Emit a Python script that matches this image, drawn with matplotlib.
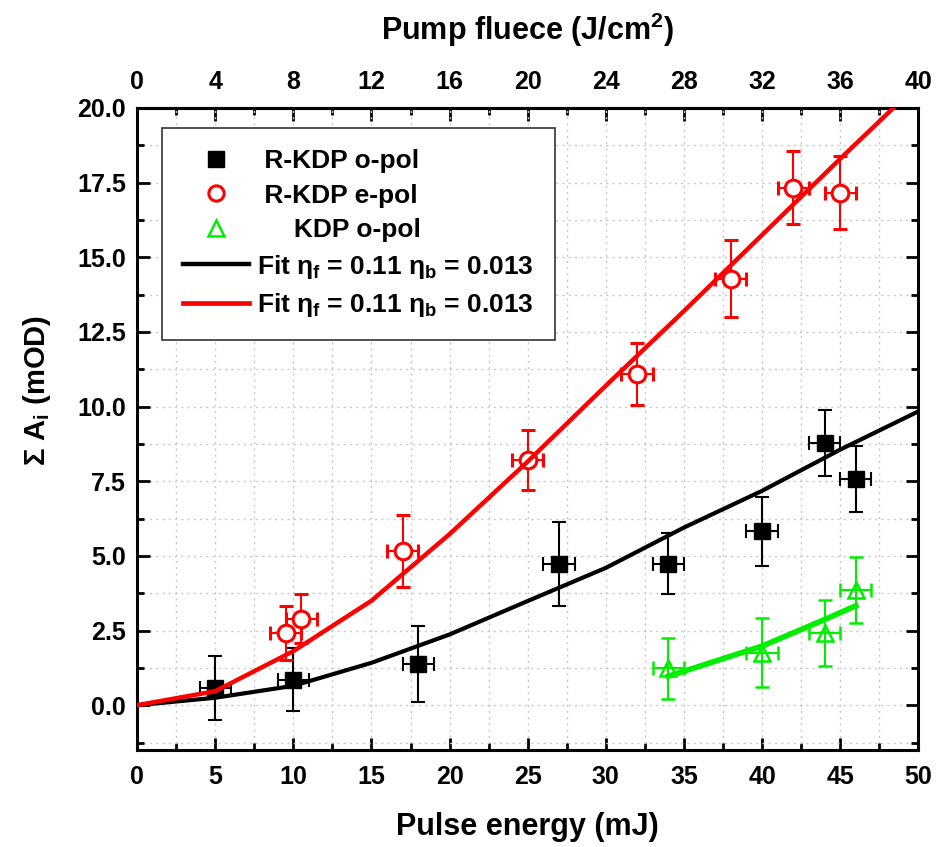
import matplotlib
matplotlib.use("Agg")
import matplotlib.pyplot as plt
from matplotlib.ticker import MultipleLocator, FixedLocator
from matplotlib.lines import Line2D

plt.rcParams["font.family"] = ["Liberation Sans", "DejaVu Sans"]
plt.rcParams["font.weight"] = "bold"
plt.rcParams["mathtext.fontset"] = "custom"
plt.rcParams["mathtext.rm"] = "Liberation Sans:bold"
plt.rcParams["mathtext.it"] = "Liberation Sans:bold"
plt.rcParams["mathtext.bf"] = "Liberation Sans:bold"

# R-KDP o-pol (black squares)
o_x = [5, 10, 18, 27, 34, 40, 44, 46]
o_y = [0.58, 0.86, 1.38, 4.72, 4.74, 5.82, 8.79, 7.58]
o_yerr = [1.07, 1.07, 1.27, 1.4, 1.02, 1.15, 1.1, 1.1]

# R-KDP e-pol (red circles)
e_x = [9.5, 10.5, 17, 25, 32, 38, 42, 45]
e_y = [2.43, 2.9, 5.17, 8.2, 11.09, 14.29, 17.33, 17.16]
e_yerr = [0.9, 0.82, 1.2, 1.0, 1.04, 1.28, 1.22, 1.22]

# KDP o-pol (green triangles)
k_x = [34, 40, 44, 46]
k_y = [1.23, 1.76, 2.43, 3.86]
k_yerr = [1.02, 1.15, 1.1, 1.1]

xerr = 1.0

# fit curves
fit_x = [0, 5, 10, 15, 20, 25, 30, 35, 40, 45, 50]
fit_o = [0, 0.25, 0.65, 1.42, 2.37, 3.49, 4.6, 5.95, 7.18, 8.56, 9.84]
fit_e = [0, 0.47, 1.81, 3.5, 5.73, 8.16, 10.7, 13.2, 15.75, 18.3, 20.8]
fit_k_x = [34, 40, 44, 46]
fit_k = [0.97, 1.98, 2.87, 3.33]

# top axis ticks (pump fluence, J/cm2)
fluence_ticks = [0, 4, 8, 12, 16, 20, 24, 28, 32, 36, 40]

GREEN = "#00ee00"

fig = plt.figure(figsize=(9.39, 8.47), dpi=100)
ax = fig.add_axes([0.146, 0.1145, 0.832, 0.758])

ekw = dict(capsize=5, elinewidth=1.5, capthick=1.5, ls="none", zorder=3)
ax.errorbar(o_x, o_y, yerr=o_yerr, xerr=xerr, fmt="s", color="black",
            ms=11, mec="black", mfc="black", **ekw)
ax.errorbar(e_x, e_y, yerr=e_yerr, xerr=xerr, fmt="o", color="red",
            ms=12, mec="red", mfc="white", mew=2.2, **ekw)
ax.errorbar(k_x, k_y, yerr=k_yerr, xerr=xerr, fmt="^", color=GREEN,
            ms=12, mec=GREEN, mfc="none", mew=1.8, **ekw)

ax.plot(fit_x, fit_o, color="black", lw=3, zorder=4)
ax.plot(fit_x, fit_e, color="red", lw=3.2, zorder=4)
ax.plot(fit_k_x, fit_k, color=GREEN, lw=4, zorder=4)

ax.set_xlim(0, 50)
ax.set_ylim(-1.5, 20)
ax.xaxis.set_major_locator(MultipleLocator(5))
ax.xaxis.set_minor_locator(MultipleLocator(2.5))
ax.yaxis.set_major_locator(MultipleLocator(2.5))
ax.yaxis.set_minor_locator(MultipleLocator(1.25))
ax.yaxis.set_major_formatter(plt.FormatStrFormatter("%.1f"))
ax.grid(True, which="both", ls=(0, (1.5, 3)), color="#c8c8c8", lw=1)
ax.set_axisbelow(True)

ax.tick_params(which="both", direction="in", width=2, right=True, top=False)
ax.tick_params(which="major", length=9)
ax.tick_params(which="minor", length=5)
ax.tick_params(axis="y", labelsize=18, pad=8)
ax.tick_params(axis="x", labelsize=18, pad=11)
for sp in ax.spines.values():
    sp.set_linewidth(2.2)

# top axis: pump fluence, 40 J/cm2 at 50 mJ
top = ax.secondary_xaxis("top", functions=(lambda x: x * 4 / 5, lambda x: x * 5 / 4))
top.xaxis.set_major_locator(FixedLocator(fluence_ticks))
top.xaxis.set_minor_locator(FixedLocator([t + 2 for t in fluence_ticks[:-1]]))
top.tick_params(which="both", direction="in", width=2, labelsize=18, pad=10)
top.tick_params(which="major", length=9)
top.tick_params(which="minor", length=5)
top.spines["top"].set_linewidth(2.2)
top.set_xlabel("Pump fluece (J/cm$^2$)", fontsize=22, fontweight="bold",
               labelpad=22)

ax.set_xlabel("Pulse energy (mJ)", fontsize=22, fontweight="bold", labelpad=16)
ax.set_ylabel("Σ A$_{i}$ (mOD)", fontsize=21, fontweight="bold")
ax.yaxis.set_label_coords(-0.108, 0.56)

handles = [
    Line2D([], [], ls="none", marker="s", ms=12, color="black"),
    Line2D([], [], ls="none", marker="o", ms=11, mfc="white", mec="red", mew=2.2),
    Line2D([], [], ls="none", marker="^", ms=12, mfc="none", mec=GREEN, mew=1.8),
    Line2D([], [], color="black", lw=3.2),
    Line2D([], [], color="red", lw=3.4),
]
labels = [
    " R-KDP o-pol",
    " R-KDP e-pol",
    "     KDP o-pol",
    r"Fit $\eta_{f}$ = 0.11 $\eta_{b}$ = 0.013",
    r"Fit $\eta_{f}$ = 0.11 $\eta_{b}$ = 0.013",
]
leg = ax.legend(handles, labels, loc="upper left", bbox_to_anchor=(0.032, 0.969),
                borderaxespad=0, fancybox=False, framealpha=1, edgecolor="#333333",
                prop=dict(size=19, weight="bold"), handlelength=2.5,
                handletextpad=0.3, labelspacing=0.4, borderpad=0.8)
leg.get_frame().set_linewidth(1.2)

fig.savefig("out.png", dpi=100)
